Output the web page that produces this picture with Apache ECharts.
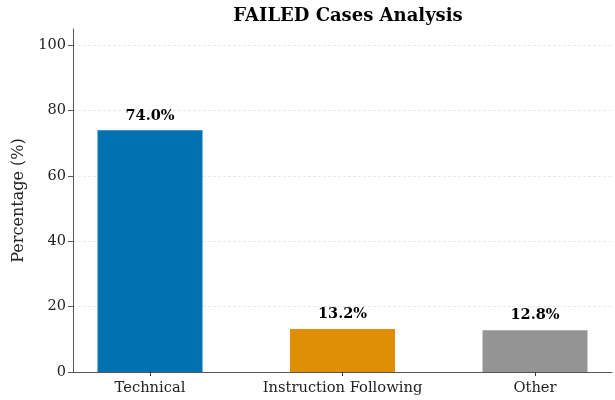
<!DOCTYPE html>
<html>
<head>
<meta charset="utf-8">
<script src="https://cdn.jsdelivr.net/npm/echarts@6/dist/echarts.min.js"></script>
<style>
  html, body { margin: 0; padding: 0; background: #fff; }
  #chart { width: 615px; height: 400px; }
</style>
</head>
<body>
<div id="chart"></div>
<script>
// 失败案例数据
var categories = ['Technical', 'Instruction Following', 'Other'];
var percentages = [74.0, 13.2, 12.8];
var barColors = ['#0072b2', '#de8f05', '#949494'];
var yTicks = [0, 20, 40, 60, 80, 100];

var chart = echarts.init(document.getElementById('chart'));
var font = 'DejaVu Serif';

var option = {
	animation: false,
	title: {
		text: 'FAILED Cases Analysis',
		left: 343,
		top: 2,
		textAlign: 'center',
		textStyle: { fontFamily: font, fontWeight: 'bold', fontSize: 18, color: '#000' }
	},
	grid: { left: 73, right: 3, top: 29, bottom: 28 },
	xAxis: {
		type: 'value',
		min: -0.4,
		max: 2.4,
		axisLine: { onZero: false, lineStyle: { color: '#555', width: 1 } },
		axisTick: { show: true, length: 4, customValues: [0, 1, 2], lineStyle: { color: '#333' } },
		axisLabel: {
			customValues: [0, 1, 2],
			formatter: function (v) { return categories[Math.round(v)]; },
			fontFamily: font, fontSize: 14.7, color: '#222', margin: 9
		},
		splitLine: { show: false }
	},
	yAxis: {
		type: 'value',
		min: 0,
		max: 105,
		name: 'Percentage (%)',
		nameLocation: 'middle',
		nameGap: 46,
		nameTextStyle: { fontFamily: font, fontSize: 16, color: '#222' },
		axisLine: { show: true, onZero: false, lineStyle: { color: '#555', width: 1 } },
		axisTick: { show: true, length: 5, customValues: yTicks, lineStyle: { color: '#555' } },
		axisLabel: { customValues: yTicks, fontFamily: font, fontSize: 14.5, color: '#222', margin: 7 },
		splitLine: { show: true, lineStyle: { color: '#e4e4e4', type: [3, 2], width: 0.8 } }
	},
	series: [{
		type: 'bar',
		barWidth: 105,
		data: percentages.map(function (v, i) {
			return { value: [i, v], itemStyle: { color: barColors[i] } };
		}),
		label: {
			show: true,
			position: 'top',
			distance: 7,
			formatter: function (p) { return p.value[1].toFixed(1) + '%'; },
			fontFamily: font, fontWeight: 'bold', fontSize: 14.5, color: '#000'
		}
	}]
};

chart.setOption(option);
</script>
</body>
</html>
